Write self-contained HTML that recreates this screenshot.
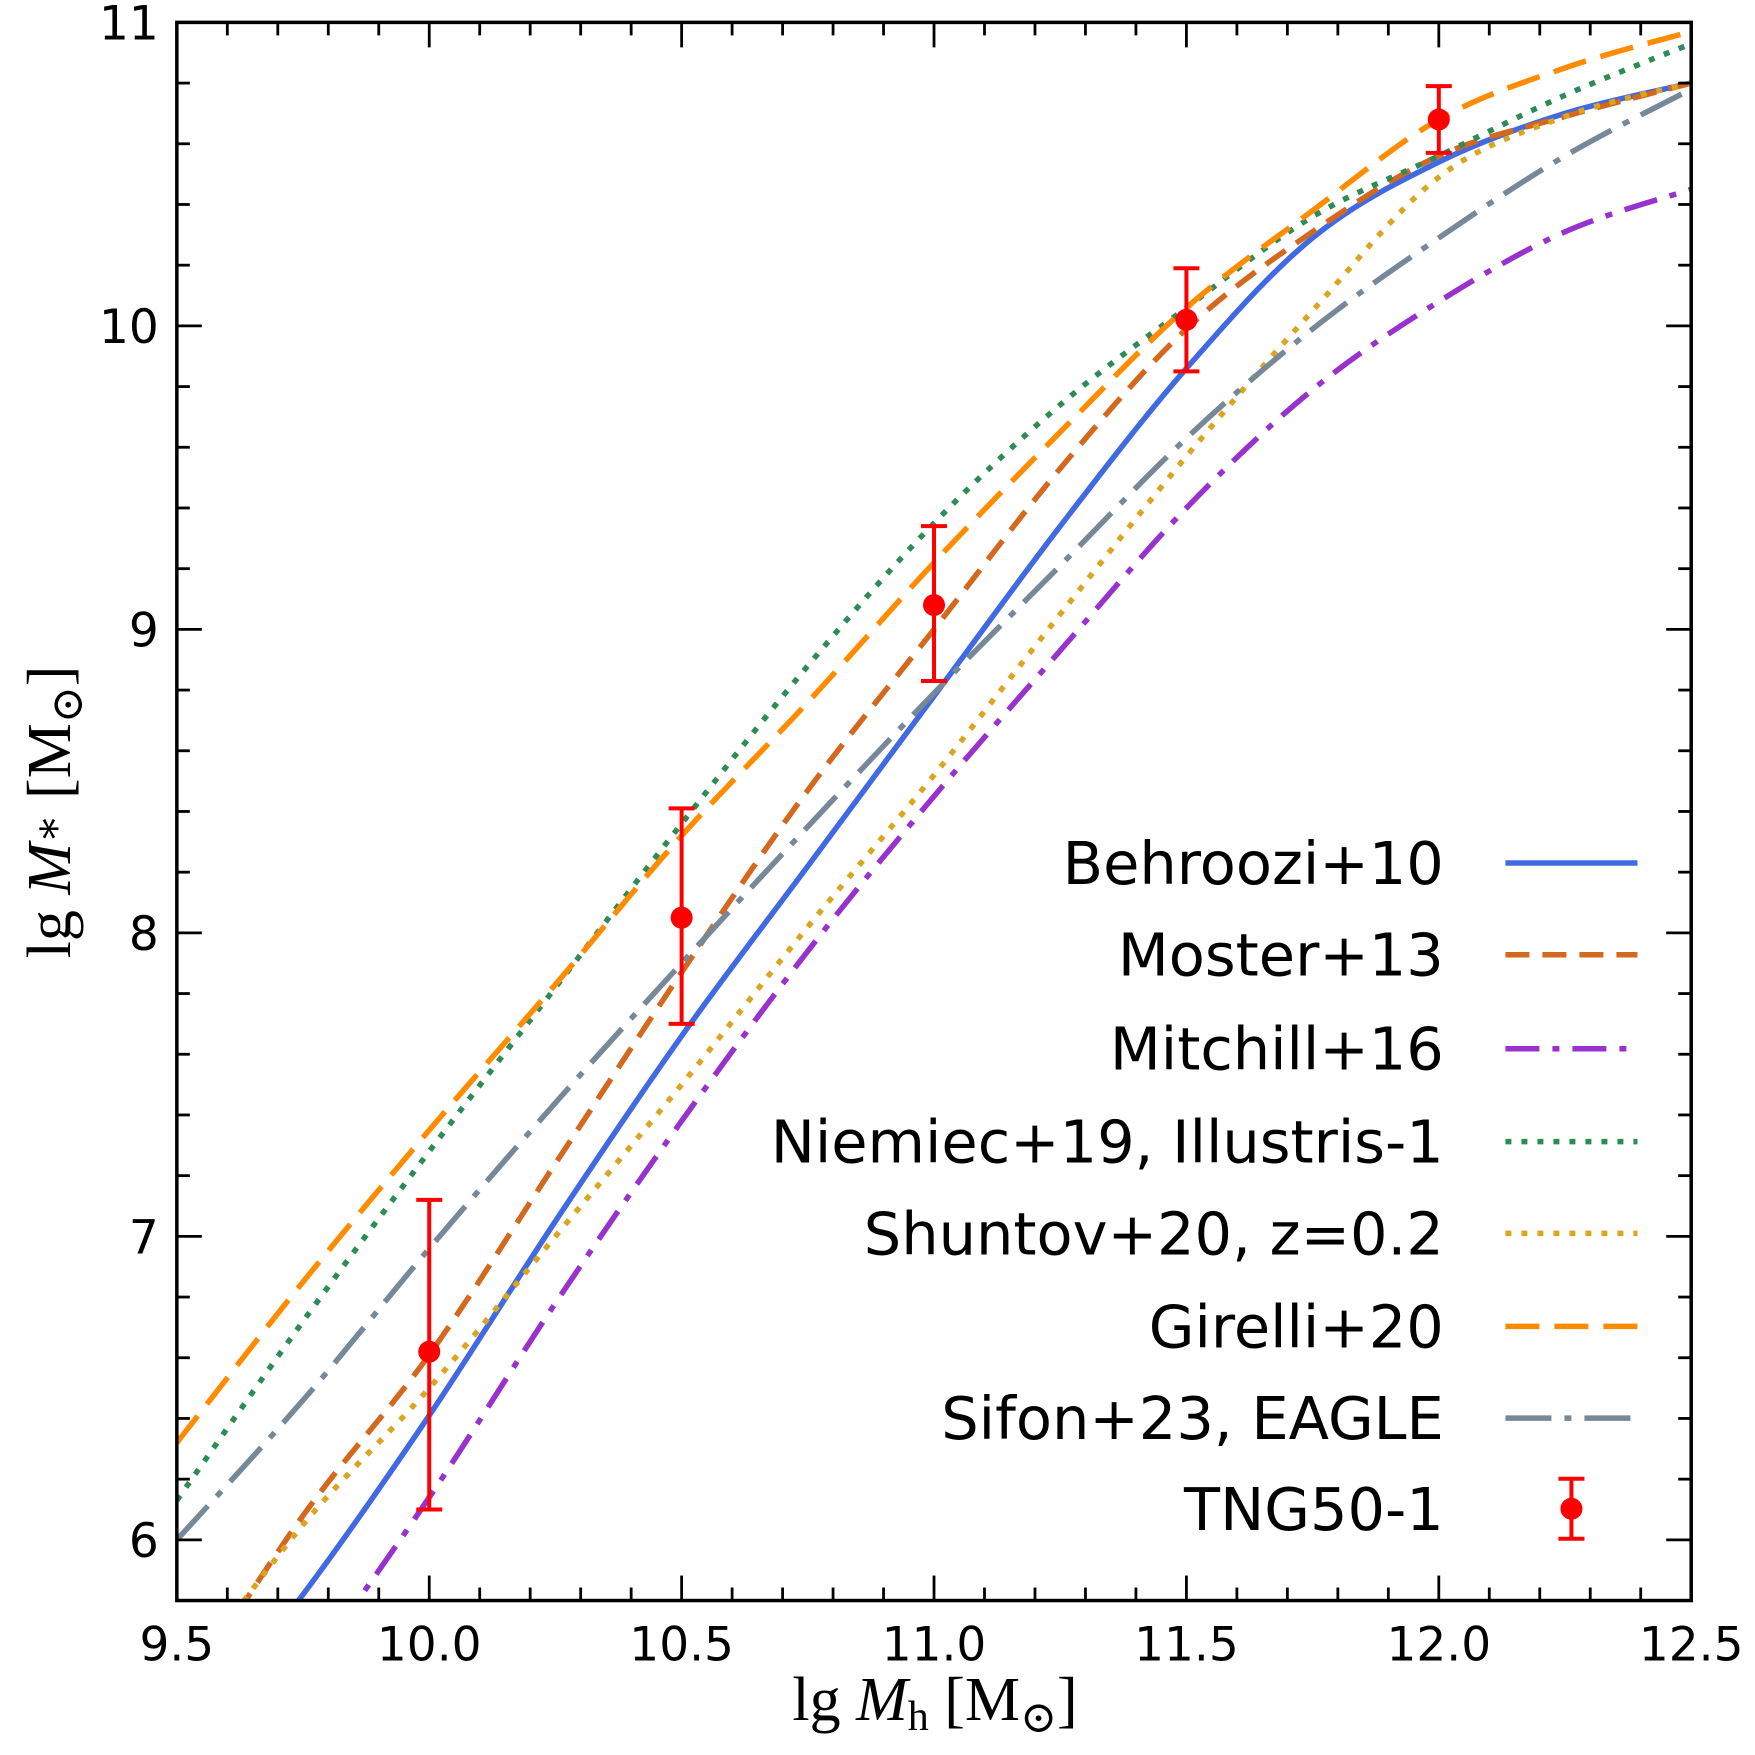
<!DOCTYPE html>
<html><head><meta charset="utf-8"><style>
html,body{margin:0;background:#fff;overflow:hidden;width:1755px;height:1755px}
svg{display:block}
.sans{font-family:"DejaVu Sans","Liberation Sans",sans-serif}
.serif{font-family:"Liberation Serif","DejaVu Serif",serif}
</style></head><body>
<svg id="chart" width="1755" height="1755" viewBox="0 0 1755 1755" xmlns="http://www.w3.org/2000/svg"></svg>
<script>
const xs = [9.5,9.75,10,10.25,10.5,10.75,11,11.25,11.5,11.75,12,12.25,12.5];
const behroozi = [5.3,5.82,6.41,7.05,7.66,8.22,8.78,9.34,9.86,10.29,10.54,10.70,10.80];
const moster   = [5.45,6.08,6.61,7.24,7.87,8.47,9.00,9.53,9.99,10.31,10.56,10.69,10.80];
const mitchill = [5.0,5.55,6.14,6.78,7.38,7.94,8.45,8.93,9.40,9.79,10.08,10.31,10.45];
const niemiec  = [6.13,6.72,7.28,7.82,8.36,8.88,9.35,9.74,10.06,10.36,10.56,10.76,10.93];
const shuntov  = [5.50,6.05,6.50,7.00,7.50,8.02,8.52,9.05,9.57,10.05,10.49,10.69,10.80];
const girelli  = [6.32,6.85,7.35,7.83,8.32,8.76,9.22,9.65,10.06,10.38,10.68,10.85,10.97];
const sifon    = [6.00,6.46,6.96,7.44,7.90,8.35,8.79,9.21,9.63,9.99,10.29,10.56,10.78];
const tngX   = [10,10.5,11,11.5,12];
const tngY   = [6.62,8.05,9.08,10.02,10.68];
const tngLo  = [6.10,7.70,8.83,9.85,10.57];
const tngHi  = [7.12,8.41,9.34,10.19,10.79];
const xTicks = ["9.5","10.0","10.5","11.0","11.5","12.0","12.5"];
const yTicks = ["6","7","8","9","10","11"];

const K=1755/1568;
const L=158*K,R=1511*K,T=20*K,B=1430*K, X0=9.5,X1=12.5,Y0=5.8,Y1=11;
const sx=v=>L+(v-X0)/(X1-X0)*(R-L);
const sy=v=>B-(v-Y0)/(Y1-Y0)*(B-T);
const svg=document.getElementById('chart');
const NS="http://www.w3.org/2000/svg";
function mk(tag,attrs,parent){const e=document.createElementNS(NS,tag);for(const k in attrs)e.setAttribute(k,attrs[k]);(parent||svg).appendChild(e);return e;}

const defs=mk('defs',{});
const cp=mk('clipPath',{id:'pc'},defs);
mk('rect',{x:L,y:T,width:R-L,height:B-T},cp);

function pathFor(ys){
  const p=xs.map((x,i)=>[sx(x),sy(ys[i])]);
  let d=`M${p[0][0]},${p[0][1]}`;
  for(let i=0;i<p.length-1;i++){
    const p0=p[Math.max(0,i-1)],p1=p[i],p2=p[i+1],p3=p[Math.min(p.length-1,i+2)];
    const c1=[p1[0]+(p2[0]-p0[0])/6,p1[1]+(p2[1]-p0[1])/6];
    const c2=[p2[0]-(p3[0]-p1[0])/6,p2[1]-(p3[1]-p1[1])/6];
    d+=`C${c1[0]},${c1[1]} ${c2[0]},${c2[1]} ${p2[0]},${p2[1]}`;
  }
  return d;
}
const LW=5.5;
const series=[
 {n:'behroozi',label:'Behroozi+10',ys:behroozi,c:'#4169e1',dash:'',cap:'butt'},
 {n:'moster',label:'Moster+13',ys:moster,c:'#d2691e',dash:'24 13',cap:'butt'},
 {n:'mitchill',label:'Mitchill+16',ys:mitchill,c:'#9932cc',dash:'34 13 7 13',cap:'butt'},
 {n:'niemiec',label:'Niemiec+19, Illustris-1',ys:niemiec,c:'#2e8b57',dash:'6 10',cap:'butt'},
 {n:'shuntov',label:'Shuntov+20, z=0.2',ys:shuntov,c:'#daa520',dash:'6 10',cap:'butt'},
 {n:'girelli',label:'Girelli+20',ys:girelli,c:'#ff8c00',dash:'34 15',cap:'butt'},
 {n:'sifon',label:'Sifon+23, EAGLE',ys:sifon,c:'#778899',dash:'46 13 7 13',cap:'butt'}
];
const g=mk('g',{'clip-path':'url(#pc)'});


series.forEach(s=>{
  const e=mk('path',{d:pathFor(s.ys),fill:'none',stroke:s.c,'stroke-width':LW,'stroke-dasharray':s.dash,'stroke-linecap':s.cap},g);
  
  
});
tngX.forEach((x,i)=>{
  const px=sx(x);
  const eb=mk('g',{stroke:'red','stroke-width':4},g);
  
  
  mk('line',{x1:px,x2:px,y1:sy(tngLo[i]),y2:sy(tngHi[i])},eb);
  mk('line',{x1:px-13,x2:px+13,y1:sy(tngLo[i]),y2:sy(tngLo[i])},eb);
  mk('line',{x1:px-13,x2:px+13,y1:sy(tngHi[i]),y2:sy(tngHi[i])},eb);
  const c=mk('circle',{cx:px,cy:sy(tngY[i]),r:11,fill:'red'},g);
  
  
});

const tk=mk('g',{stroke:'#000','stroke-width':2.8});


for(let i=0;i<=30;i++){const v=9.5+i*0.1,px=sx(v),len=(i%5===0)?25:13;
  mk('line',{x1:px,x2:px,y1:B,y2:B-len},tk);mk('line',{x1:px,x2:px,y1:T,y2:T+len},tk);}
for(let i=0;i<=26;i++){const v=5.8+i*0.2,py=sy(v),len=(Math.abs(v-Math.round(v))<1e-6)?25:13;
  mk('line',{x1:L,x2:L+len,y1:py,y2:py},tk);mk('line',{x1:R,x2:R-len,y1:py,y2:py},tk);}
const fr=mk('rect',{x:L,y:T,width:R-L,height:B-T,fill:'none',stroke:'#000','stroke-width':3.5});



xTicks.forEach(t=>{const e=mk('text',{x:sx(+t),y:B+60,'text-anchor':'middle','font-size':47,'class':'sans'});e.textContent=t;
  });
yTicks.forEach(t=>{const e=mk('text',{x:L-18,y:sy(+t)+17,'text-anchor':'end','font-size':47,'class':'sans'});e.textContent=t;
  });

const xl=mk('text',{x:935,y:1720,'text-anchor':'middle','font-size':62,'class':'serif'});
xl.innerHTML='lg <tspan font-style="italic">M</tspan><tspan font-size="42" dy="10">h</tspan><tspan dy="-10"> [M</tspan><tspan font-size="44" dy="12">⊙</tspan><tspan dy="-12">]</tspan>';

const yl=mk('text',{x:0,y:0,'text-anchor':'middle','font-size':62,'class':'serif',transform:'translate(70,812) rotate(-90)'});
yl.innerHTML='lg <tspan font-style="italic">M</tspan><tspan font-size="42" dy="-8">∗</tspan><tspan dy="8"> [M</tspan><tspan font-size="44" dy="12">⊙</tspan><tspan dy="-12">]</tspan>';


const lg=mk('g',{});

const rows=[771,853,937,1020,1102,1185,1267,1348].map(v=>v*K);
const TX=1290*K, LX1=1345*K, LX2=1463*K, MX=1404*K;
series.forEach((s,i)=>{
  const e=mk('g',{},lg);
  
  const t=mk('text',{x:TX,y:rows[i]+21,'text-anchor':'end','font-size':59,'class':'sans'},e);t.textContent=s.label;
  mk('line',{x1:LX1,x2:LX2,y1:rows[i],y2:rows[i],stroke:s.c,'stroke-width':LW,'stroke-dasharray':s.dash,'stroke-linecap':s.cap},e);
});
const e=mk('g',{},lg);

const t=mk('text',{x:TX,y:rows[7]+21,'text-anchor':'end','font-size':59,'class':'sans'},e);t.textContent='TNG50-1';
mk('line',{x1:MX,x2:MX,y1:rows[7]-30,y2:rows[7]+30,stroke:'red','stroke-width':4},e);
mk('line',{x1:MX-13,x2:MX+13,y1:rows[7]-30,y2:rows[7]-30,stroke:'red','stroke-width':4},e);
mk('line',{x1:MX-13,x2:MX+13,y1:rows[7]+30,y2:rows[7]+30,stroke:'red','stroke-width':4},e);
mk('circle',{cx:MX,cy:rows[7],r:11,fill:'red'},e);
</script>
</body></html>
